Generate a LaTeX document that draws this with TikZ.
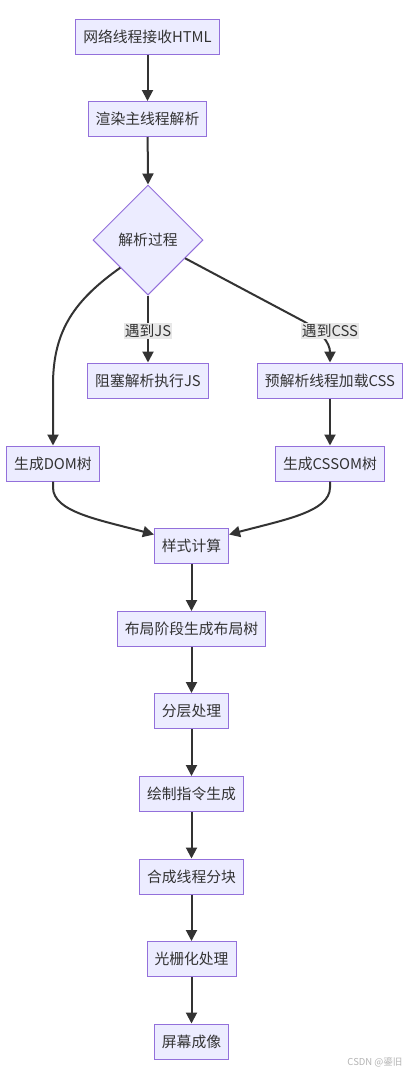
\documentclass[tikz,border=0pt]{standalone}
\usepackage{fontspec}
\setmainfont{Noto Sans CJK SC}
\usetikzlibrary{arrows.meta,shapes.geometric,calc}
\definecolor{boxfill}{HTML}{ECECFF}
\definecolor{boxline}{HTML}{9370DB}
\definecolor{edgecol}{HTML}{333333}
\definecolor{labelbg}{HTML}{E8E8E8}
\definecolor{textcol}{HTML}{333333}
\definecolor{wmcol}{HTML}{B4B4B4}
\begin{document}
\begin{tikzpicture}[x=1pt,y=-1pt,
  every node/.style={font=\fontsize{14.8}{18}\selectfont, text=textcol},
  box/.style={draw=boxline, fill=boxfill, line width=1pt, minimum height=35pt, inner xsep=7.5pt, inner ysep=0pt},
  decision/.style={diamond, draw=boxline, fill=boxfill, line width=1pt, minimum width=110pt, minimum height=110pt, inner sep=0pt},
  elabel/.style={fill=labelbg, inner sep=1pt},
  flow/.style={draw=edgecol, line width=2pt, -{Triangle[length=11pt,width=11pt]}}
]
\useasboundingbox (0,0) rectangle (411,1079);
\fill[white] (0,0) rectangle (411,1079);

\node[box] (n1) at (147.5,36.5) {网络线程接收HTML};
\node[box] (n2) at (147.5,119) {渲染主线程解析};
\node[decision] (d) at (148,240) {解析过程};
\node[box] (js) at (148,380.5) {阻塞解析执行JS};
\node[box] (css) at (330,380.5) {预解析线程加载CSS};
\node[box] (dom) at (53,463.5) {生成DOM树};
\node[box] (cssom) at (330,463.5) {生成CSSOM树};
\node[box] (s) at (191.5,545.5) {样式计算};
\node[box] (l) at (191.5,629) {布局阶段生成布局树};
\node[box] (f) at (191.5,711) {分层处理};
\node[box] (p) at (191.5,794) {绘制指令生成};
\node[box] (c) at (191.5,876.5) {合成线程分块};
\node[box] (r) at (191.5,959) {光栅化处理};
\node[box] (m) at (191.5,1041.5) {屏幕成像};

\coordinate (dse) at ($(d.east)!0.33!(d.south)$);
\coordinate (sl) at ($(s.north west)+(0,7)$);
\coordinate (sr) at ($(s.north east)+(0,7)$);

\draw[flow] (n1) -- (n2);
\draw[flow] (n2) -- (d.north);
\draw[flow] (d.south west) .. controls (75,300) and (53,330) .. (53,385) -- (dom.north);
\draw[flow] (d.south) -- (js.north);
\draw[flow] (dse) -- (303,321) .. controls (320,330) and (330,343) .. (css.north);
\draw[flow] (css) -- (cssom);
\draw[flow] (dom.south) -- ++(0,6) .. controls (53,512) and (100,520) .. (sl);
\draw[flow] (cssom.south) -- ++(0,6) .. controls (330,512) and (283,520) .. (sr);
\draw[flow] (s) -- (l);
\draw[flow] (l) -- (f);
\draw[flow] (f) -- (p);
\draw[flow] (p) -- (c);
\draw[flow] (c) -- (r);
\draw[flow] (r) -- (m);

\node[elabel] (lj) at (148,331) {遇到JS};
\node[elabel] (lc) at (330,331) {遇到CSS};

\node[font=\fontsize{9.5}{11}\selectfont, text=wmcol, anchor=east] (wm) at (406,1062) {CSDN @鎏旧};
\end{tikzpicture}
\end{document}
